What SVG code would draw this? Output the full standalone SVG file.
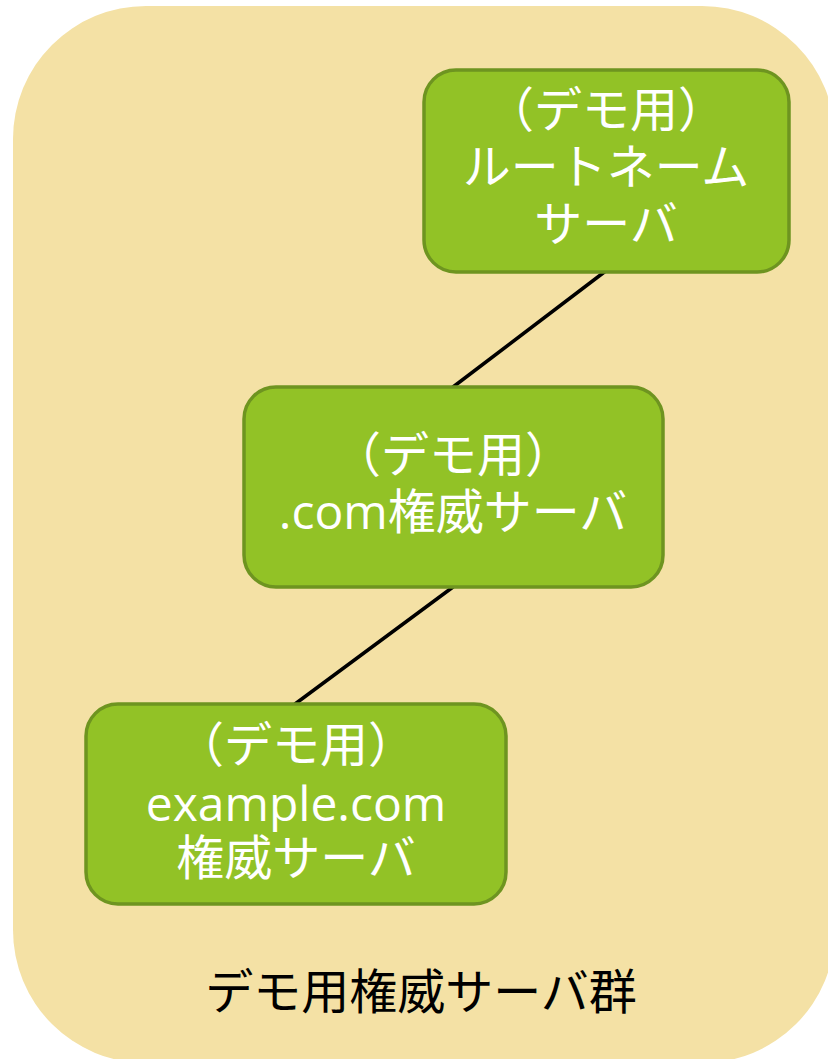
<svg xmlns="http://www.w3.org/2000/svg" width="828" height="1059" viewBox="0 0 828 1059">
  <style>
    .bg { fill: #F4E1A5; }
    .node { fill: #92C226; stroke: #6E9420; stroke-width: 3.5; }
    .t { font-family: "Open Sans", "Noto Sans CJK JP", sans-serif; font-size: 48px; fill: #FFFFFF; text-anchor: middle; }
    .label { font-family: "Open Sans", "Noto Sans CJK JP", sans-serif; font-size: 48px; fill: #000000; text-anchor: middle; }
    .conn { stroke: #000000; stroke-width: 3.5; stroke-linecap: round; fill: none; }
  </style>
  <g id="group-bg">
    <rect class="bg" x="13" y="6" width="822" height="1057" rx="133" ry="133"/>
    <text class="label" x="421" y="1009">デモ用権威サーバ群</text>
  </g>
  <g id="connectors">
    <line class="conn" x1="607" y1="270" x2="453" y2="387"/>
    <line class="conn" x1="453" y1="587" x2="295" y2="704"/>
  </g>
  <g id="node-root">
    <rect class="node" x="424" y="70" width="365" height="202" rx="32" ry="32"/>
    <text class="t" x="606" y="127"><tspan x="606">（デモ用）</tspan><tspan x="606" dy="57">ルートネーム</tspan><tspan x="606" dy="57">サーバ</tspan></text>
  </g>
  <g id="node-com">
    <rect class="node" x="244" y="387" width="419" height="200" rx="32" ry="32"/>
    <text class="t" x="453" y="472"><tspan x="453">（デモ用）</tspan><tspan x="453" dy="57">.com権威サーバ</tspan></text>
  </g>
  <g id="node-example">
    <rect class="node" x="86" y="704" width="420" height="200" rx="32" ry="32"/>
    <text class="t" x="296" y="762"><tspan x="296">（デモ用）</tspan><tspan x="296" dy="59">example.com</tspan><tspan x="296" dy="54">権威サーバ</tspan></text>
  </g>
</svg>
